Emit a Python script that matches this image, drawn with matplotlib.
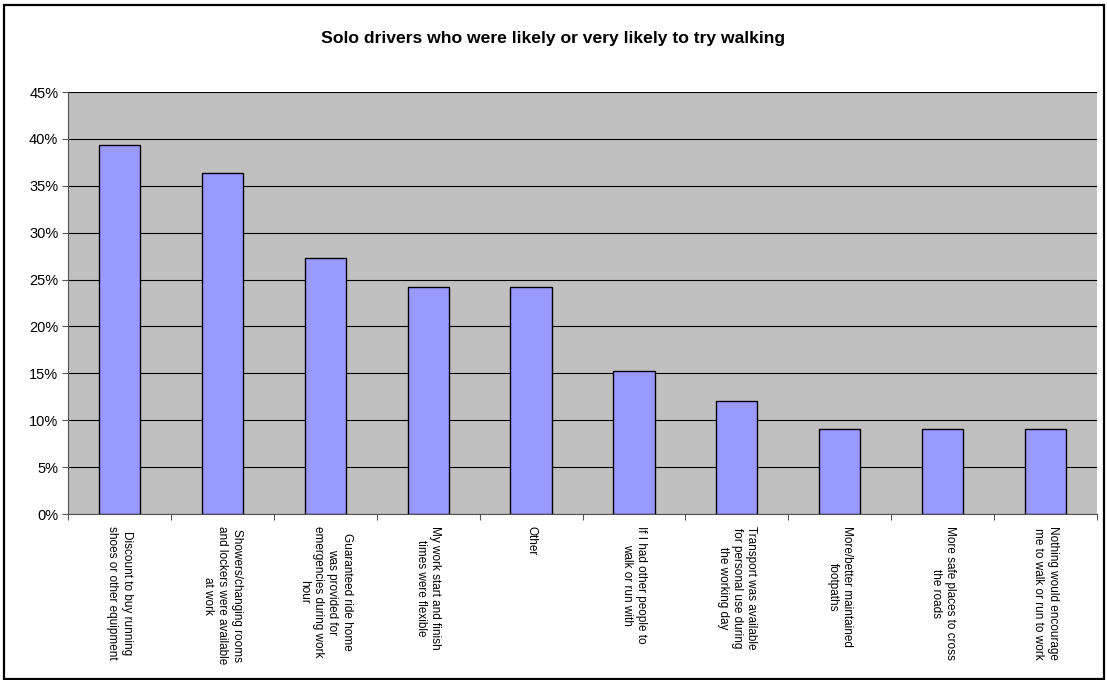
import matplotlib
matplotlib.use("Agg")
import matplotlib.pyplot as plt
from matplotlib.patches import Rectangle
from matplotlib.ticker import FuncFormatter, MultipleLocator
import numpy as np

plt.rcParams['font.family'] = ['Liberation Sans', 'DejaVu Sans']

title = "Solo drivers who were likely or very likely to try walking"
categories = [
    "Discount to buy running\nshoes or other equipment",
    "Showers/changing rooms\nand lockers were available\nat work",
    "Guaranteed ride home\nwas provided for\nemergencies during work\nhour",
    "My work start and finish\ntimes were flexible",
    "Other",
    "If I had other people to\nwalk or run with",
    "Transport was available\nfor personal use during\nthe working day",
    "More/better maintained\nfootpaths",
    "More safe places to cross\nthe roads",
    "Nothing would encourage\nme to walk or run to work",
]
values = [39.4, 36.4, 27.3, 24.2, 24.2, 15.2, 12.1, 9.1, 9.1, 9.1]

W, H = 1107, 680
fig = plt.figure(figsize=(W / 100, H / 100), dpi=100)
fig.patch.set_facecolor('white')

# outer border
fig.add_artist(Rectangle((3.5 / W, 1 - 679 / H), (1103.5 - 3.5) / W, (679 - 4.5) / H,
                         transform=fig.transFigure, fill=False, edgecolor='black', linewidth=1.6))

left, right, top, bottom = 68, 1097, 92, 514
ax = fig.add_axes([left / W, 1 - bottom / H, (right - left) / W, (bottom - top) / H])
ax.set_facecolor('#C0C0C0')

x = np.arange(len(categories))
ax.bar(x, values, width=0.4, color='#9999FF', edgecolor='black', linewidth=1.0, zorder=3)

ax.set_xlim(-0.5, len(categories) - 0.5)
ax.set_ylim(0, 45)
ax.yaxis.set_major_locator(MultipleLocator(5))
ax.yaxis.set_major_formatter(FuncFormatter(lambda v, p: f"{v:.0f}%"))
ax.grid(axis='y', color='black', linewidth=0.8, zorder=1)
ax.set_axisbelow(True)

for s in ['top', 'right']:
    ax.spines[s].set_visible(False)
ax.spines['left'].set_color('#555555')
ax.spines['bottom'].set_color('#555555')

ax.tick_params(axis='y', length=4, width=0.8, color='#555555', labelsize=10.5, pad=3)
ax.set_xticks(np.arange(len(categories) + 1) - 0.5)
ax.set_xticklabels([])
ax.tick_params(axis='x', length=4, width=0.8, color='#555555')

for i, lab in enumerate(categories):
    ax.annotate(lab, xy=(i, 0), xycoords=('data', 'axes fraction'),
                xytext=(0, -9), textcoords='offset points',
                rotation=-90, ha='center', va='top', multialignment='center',
                fontsize=8.5, linespacing=1.25)

fig.text(0.5, 1 - 39 / H, title, ha='center', va='center', fontsize=12.6, fontweight='bold')

fig.savefig('out.png', dpi=100)
